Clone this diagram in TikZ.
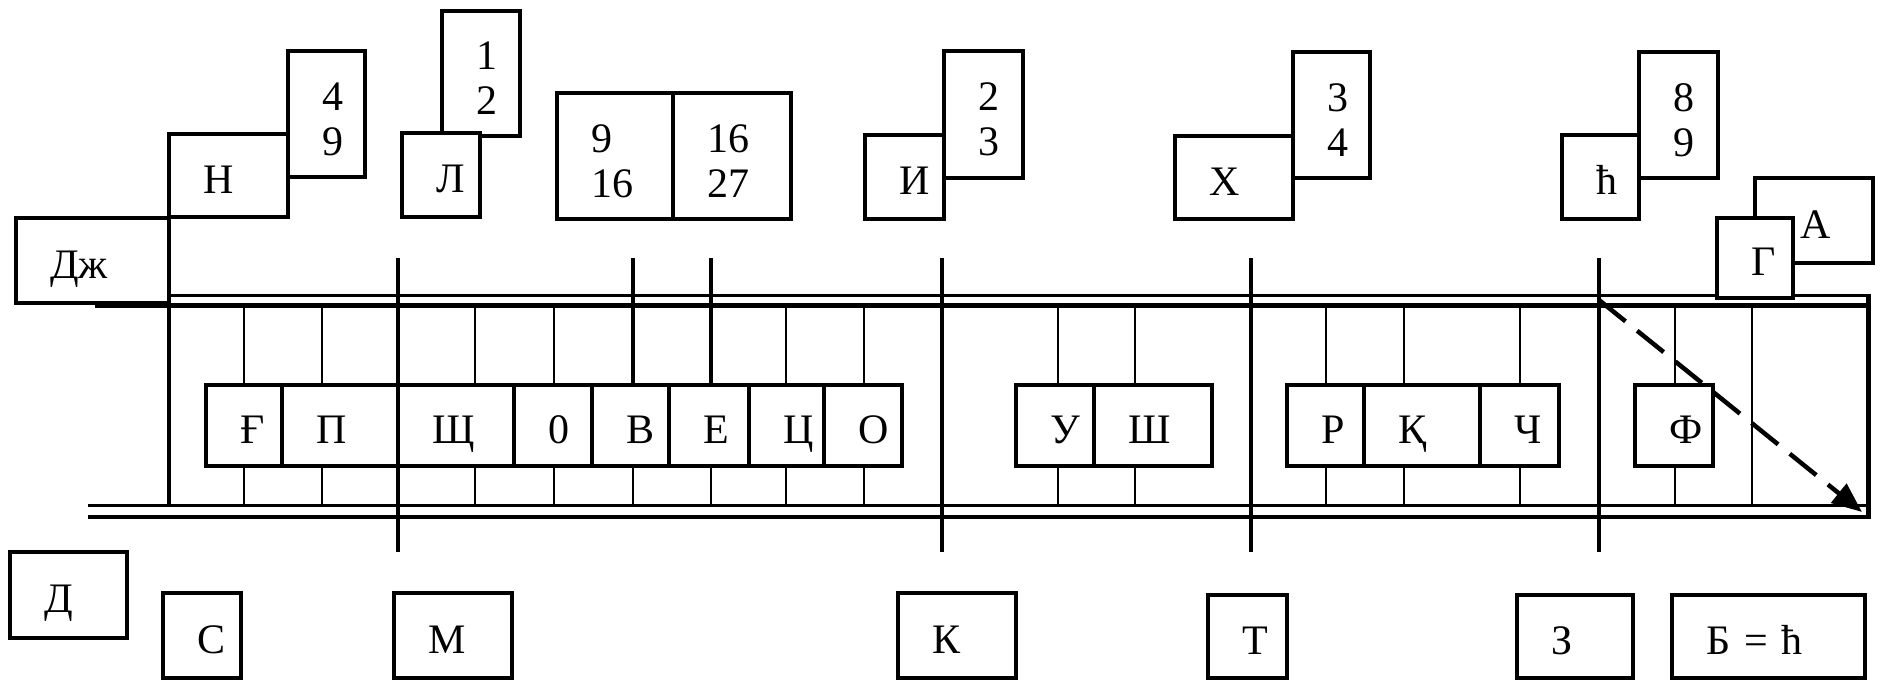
\documentclass[tikz,border=0pt]{standalone}
\usepackage{fontspec}
\setmainfont{Liberation Serif}
\usetikzlibrary{arrows.meta}
\tikzset{
  bx/.style={draw, line width=3.3pt, fill=white, rectangle, outer sep=0pt,
    inner ysep=0pt, inner xsep=34pt, align=left,
    font=\fontsize{42}{45}\selectfont},
  one/.style={text height=35pt, text depth=0pt},
  rail/.style={line width=3.8pt},
  tick/.style={line width=2.8pt},
  longtick/.style={line width=3.4pt},
  arr/.style={line width=4.5pt, dash pattern=on 34pt off 15pt,
    -{Triangle[length=30pt,width=24pt]}},
}
% [style] name x1 y1 x2 y2 text   (image coordinates, y downwards)
\newcommand{\boxat}[7][one]{%
  \pgfmathsetmacro{\bw}{#5-#3}%
  \pgfmathsetmacro{\bh}{#6-#4}%
  \pgfmathsetmacro{\tw}{#5-#3-68}%
  \node[bx,#1,anchor=north west,minimum width=\bw pt,minimum height=\bh pt,text width=\tw pt] (#2) at (#3,#4) {#7};}
% two-line number text, set a little below the middle
\newcommand{\twol}[2]{\rule{0pt}{38pt}#1\\#2}
\begin{document}
\begin{tikzpicture}[x=1pt,y=-1pt]
\fill[white] (0,0) rectangle (1889,682);
\useasboundingbox (0,0) rectangle (1889,682);

% rails
\draw[rail] (95,295.5) -- (1870,295.5);
\draw[rail, line width=4.2pt] (95,305.5) -- (1870,305.5);
\draw[rail] (88,505.5) -- (1870,505.5);
\draw[rail, line width=4.6pt] (88,517) -- (1866,517);
\draw[line width=5pt] (1868,294) -- (1868,519);

% verticals
\foreach \x in {244,322,475,554,786,864,1058,1135,1326,1404,1520,1675} {
  \draw[tick] (\x,305) -- (\x,385);
  \draw[tick] (\x,466) -- (\x,505);
}
\foreach \x in {633,711} {
  \draw[longtick] (\x,258) -- (\x,385);
  \draw[tick] (\x,466) -- (\x,505);
}
\foreach \x in {398,942,1251,1599} \draw[longtick] (\x,258) -- (\x,552);
\draw[tick] (1752,305) -- (1752,505);
\draw[longtick] (169,217) -- (169,505);

% top boxes
\boxat{nDzh}{16}{218}{169}{303}{Дж}
\boxat[]{n49}{288}{51}{365}{177}{\twol{4}{9}}
\boxat{nN}{169}{134}{288}{217}{Н}
\boxat[]{n12}{442}{11}{520}{136}{\twol{1}{2}}
\boxat{nL}{402}{133}{480}{217}{Л}
\boxat[]{n916}{557}{93}{673}{219}{\twol{9}{16}}
\boxat[]{n1627}{673}{93}{791}{219}{\twol{16}{27}}
\boxat{nI}{865}{135}{944}{219}{И}
\boxat[]{n23}{944}{51}{1023}{178}{\twol{2}{3}}
\boxat{nX}{1175}{136}{1293}{219}{Х}
\boxat[]{n34}{1293}{52}{1370}{178}{\twol{3}{4}}
\boxat{nTshe}{1562}{135}{1639}{219}{ћ}
\boxat[]{n89}{1639}{52}{1718}{178}{\twol{8}{9}}
\boxat{nA}{1755}{178}{1873}{263}{\hspace*{11pt}А}
\boxat{nG}{1717}{218}{1793}{298}{Г}

% middle row
\boxat{mGh}{206}{385}{282}{466}{Ғ}
\boxat{mP}{282}{385}{398}{466}{П}
\boxat{mShch}{398}{385}{514}{466}{Щ}
\boxat{mZero}{514}{385}{592}{466}{0}
\boxat{mV}{592}{385}{669}{466}{В}
\boxat{mE}{669}{385}{749}{466}{Е}
\boxat{mTs}{749}{385}{824}{466}{Ц}
\boxat{mO}{824}{385}{902}{466}{О}
\boxat{mU}{1016}{385}{1094}{466}{У}
\boxat{mSh}{1094}{385}{1212}{466}{Ш}
\boxat{mR}{1287}{385}{1364}{466}{Р}
\boxat{mQ}{1364}{385}{1480}{466}{Қ}
\boxat{mCh}{1480}{385}{1559}{466}{Ч}
\boxat{mF}{1635}{385}{1713}{466}{Ф}

% bottom boxes
\boxat{bD}{10}{552}{127}{638}{Д}
\boxat{bS}{163}{593}{241}{678}{С}
\boxat{bM}{394}{593}{512}{678}{М}
\boxat{bK}{898}{593}{1016}{678}{К}
\boxat{bT}{1208}{595}{1287}{678}{Т}
\boxat{bZ}{1517}{595}{1633}{678}{З}
\boxat{bB}{1672}{595}{1865}{678}{Б = ћ}

% dashed arrow
\coordinate (as) at (1599,300);
\coordinate (ae) at (1862,512);
\draw[arr] (as) -- (ae);
\end{tikzpicture}
\end{document}
